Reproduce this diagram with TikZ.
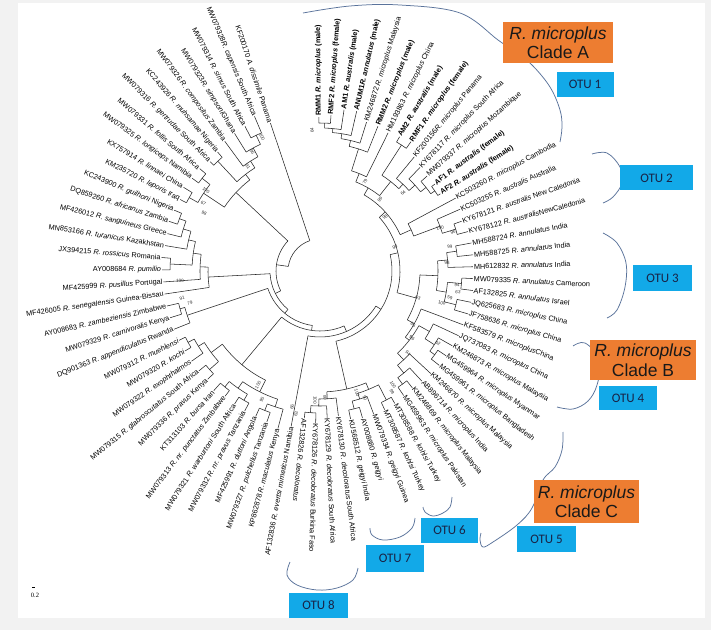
\documentclass[tikz,border=0pt]{standalone}
\usepackage{fontspec}
\setmainfont{Liberation Sans}
\newfontfamily\otufont{Carlito}
\newfontfamily\scalefont{Liberation Serif}
\definecolor{bgc}{RGB}{242,242,242}
\definecolor{cladeor}{RGB}{237,125,49}
\definecolor{otublue}{RGB}{18,169,232}
\definecolor{otutext}{RGB}{25,35,70}
\definecolor{bracketc}{RGB}{90,115,155}
\tikzset{
  br/.style={line width=0.55pt, draw=black!85},
  lab/.style={font=\fontsize{7.3}{8}\selectfont, inner sep=0.8pt},
  bs/.style={font=\fontsize{4.6}{5}\selectfont, inner sep=0pt, text=black!80},
  brk/.style={draw=bracketc, line width=0.75pt},
  cladebox/.style={fill=cladeor, text=black!90, font=\fontsize{17.5}{19.5}\selectfont, align=center, inner sep=0pt},
  otubox/.style={fill=otublue, text=otutext, font=\otufont\fontsize{13}{14}\selectfont, inner sep=0pt},
}
\newcommand{\Ang}[1]{(90.4-(#1-1)*4.44)}
\newcommand{\TRad}[3]{\draw[br] ({\Ang{#1}}:#2) -- ({\Ang{#1}}:#3);}
\newcommand{\TArc}[3]{\draw[br] ({\Ang{#2}}:#1) arc[start angle={\Ang{#2}}, end angle={\Ang{#3}}, radius=#1];}
\newcommand{\LR}[3]{\node[lab, anchor=west, rotate={\Ang{#1}}] (l#1) at ({\Ang{#1}}:#2) {#3};}
\newcommand{\LL}[3]{\node[lab, anchor=east, rotate={\Ang{#1}+180}] (l#1) at ({\Ang{#1}}:#2) {#3};}
\newcommand{\BR}[4]{\node[bs, rotate=#2] (#1) at (#2:#3) {#4};}
\newcommand{\BL}[4]{\node[bs, rotate=#2+180] (#1) at (#2:#3) {#4};}
\newcommand{\Ri}[1]{\textit{#1}}
\begin{document}
\begin{tikzpicture}[x=1pt,y=1pt]
\useasboundingbox (0,0) rectangle (711,630);
\fill[bgc] (0,0) rectangle (711,630);
\fill[white] (18,12) rectangle (705,627);

% ---------- brackets (behind boxes) ----------
\draw[brk] plot[smooth, tension=0.6] coordinates {(303,617) (350,624) (400,625) (460,617) (498,590) (515,578) (532,565) (550,543) (560,520) (562,503) (560,488)};
\draw[brk] plot[smooth, tension=0.6] coordinates {(592,476) (607,477) (620,463) (622,447) (613,433) (603,427)};
\draw[brk] plot[smooth, tension=0.6] coordinates {(603,397) (617,387) (626,367) (625,343) (617,320) (607,312)};
\draw[brk] plot[smooth, tension=0.6] coordinates {(573,284) (585,287) (600,270) (597,245) (588,229) (573,221) (557,223)};
\draw[brk] plot[smooth, tension=0.6] coordinates {(563,198) (562,180) (555,163) (543,150) (532,122) (517,105) (493,88) (483,83) (480,90) (481,97)};
\draw[brk] plot[smooth, tension=0.6] coordinates {(452,133) (450,123) (443,117) (433,114) (425,118) (423,123)};
\draw[brk] plot[smooth, tension=0.6] coordinates {(415,112) (412,102) (400,93) (383,90) (372,95) (370,102)};
\draw[brk] plot[smooth, tension=0.6] coordinates {(358,62) (353,50) (337,42) (317,40) (297,45) (287,55) (290,68)};

% ---------- boxes ----------
\node[cladebox, minimum width=110pt, minimum height=41pt] (cA) at (558,587.5) {\textit{R. microplus}\\Clade A};
\node[cladebox, minimum width=106pt, minimum height=40pt] (cB) at (643,270) {\textit{R. microplus}\\Clade B};
\node[cladebox, minimum width=105pt, minimum height=43pt] (cC) at (586.5,128.5) {\textit{R. microplus}\\Clade C};
\node[otubox, minimum width=57pt, minimum height=25pt] (o1) at (585,545.5) {OTU 1};
\node[otubox, minimum width=73pt, minimum height=25pt] (o2) at (656.5,452) {OTU 2};
\node[otubox, minimum width=59pt, minimum height=26pt] (o3) at (662.5,352) {OTU 3};
\node[otubox, minimum width=58pt, minimum height=24pt] (o4) at (628,232) {OTU 4};
\node[otubox, minimum width=59pt, minimum height=26pt] (o5) at (546.5,91) {OTU 5};
\node[otubox, minimum width=57pt, minimum height=25pt] (o6) at (449.5,99.5) {OTU 6};
\node[otubox, minimum width=58pt, minimum height=27pt] (o7) at (395,71.5) {OTU 7};
\node[otubox, minimum width=59pt, minimum height=25pt] (o8) at (318.5,24.5) {OTU 8};

% ---------- scale ----------
\draw[line width=0.5pt] (32,43) -- (35,43);
\node[font=\scalefont\fontsize{6.5}{7}\selectfont, inner sep=0pt] (scl) at (35,35) {0.2};

\begin{scope}[shift={(320,359)}]
% ---------- tree: clade A ----------
\TArc{148}{1}{2} \TRad{1}{148}{154} \TRad{2}{148}{156}
\TArc{143}{1.5}{3} \TRad{1.5}{143}{148} \TRad{3}{143}{163}
\TArc{139}{2.25}{4} \TRad{2.25}{139}{143} \TRad{4}{139}{164}
\TArc{134}{3.125}{5} \TRad{3.125}{134}{139} \TRad{5}{134}{156}
\TArc{128}{4.06}{6} \TRad{4.06}{128}{134} \TRad{6}{128}{156}
\TArc{105}{5.03}{7} \TRad{5.03}{105}{128} \TRad{7}{105}{154}
\TArc{150}{8}{9} \TRad{8}{150}{156} \TRad{9}{150}{158}
\TArc{140}{13}{14} \TRad{13}{140}{144} \TRad{14}{140}{143}
\TArc{135}{12}{13.5} \TRad{12}{135}{143} \TRad{13.5}{135}{140}
\TArc{128}{11}{12.75} \TRad{11}{128}{144} \TRad{12.75}{128}{135}
\TArc{120}{10}{11.875} \TRad{10}{120}{148} \TRad{11.875}{120}{128}
\TArc{114}{8.5}{10.94} \TRad{8.5}{114}{150} \TRad{10.94}{114}{120}
\TArc{96}{6.02}{9.72} \TRad{6.02}{96}{105} \TRad{9.72}{96}{114}
% australis
\TArc{142}{17}{18} \TRad{17}{142}{150} \TRad{18}{142}{153}
\TArc{128}{16}{17.5} \TRad{16}{128}{153} \TRad{17.5}{128}{142}
\TArc{100}{15}{16.75} \TRad{15}{100}{154} \TRad{16.75}{100}{128}
\TArc{88}{7.87}{15.875} \TRad{7.87}{88}{96} \TRad{15.875}{88}{100}
% annulatus + microplus B/C
\TArc{138}{19}{20} \TRad{19}{138}{154} \TRad{20}{138}{154}
\TArc{128}{19.5}{21} \TRad{19.5}{128}{138} \TRad{21}{128}{153}
\TArc{142}{22}{23} \TRad{22}{142}{153} \TRad{23}{142}{154}
\TArc{140}{24}{25} \TRad{24}{140}{154} \TRad{25}{140}{154}
\TArc{128}{22.5}{24.5} \TRad{22.5}{128}{142} \TRad{24.5}{128}{140}
\TArc{118}{20.25}{23.5} \TRad{20.25}{118}{128} \TRad{23.5}{118}{128}
\TArc{142}{29}{30} \TRad{29}{142}{152} \TRad{30}{142}{152}
\TArc{136}{28}{29.5} \TRad{28}{136}{152} \TRad{29.5}{136}{142}
\TArc{125}{27}{28.75} \TRad{27}{125}{153} \TRad{28.75}{125}{136}
\TArc{140}{33}{34} \TRad{33}{140}{149} \TRad{34}{140}{150}
\TArc{132}{32}{33.5} \TRad{32}{132}{150} \TRad{33.5}{132}{140}
\TArc{122}{31}{32.75} \TRad{31}{122}{151} \TRad{32.75}{122}{132}
\TArc{113}{27.875}{31.875} \TRad{27.875}{113}{125} \TRad{31.875}{113}{122}
\TArc{108}{26}{29.875} \TRad{26}{108}{153} \TRad{29.875}{108}{113}
\TArc{100}{21.875}{27.94} \TRad{21.875}{100}{118} \TRad{27.94}{100}{108}
\TArc{80}{11.87}{24.9} \TRad{11.87}{80}{88} \TRad{24.9}{80}{100}
% kohlsi, geigyi, decoloratus
\TArc{145}{35}{36} \TRad{35}{145}{152} \TRad{36}{145}{153}
\TArc{142}{38}{39} \TRad{38}{142}{153} \TRad{39}{142}{151}
\TArc{134}{37}{38.5} \TRad{37}{134}{153} \TRad{38.5}{134}{142}
\TArc{128}{35.5}{37.75} \TRad{35.5}{128}{145} \TRad{37.75}{128}{134}
\TArc{142}{42}{43} \TRad{42}{142}{152} \TRad{43}{142}{148}
\TArc{135}{41}{42.5} \TRad{41}{135}{147} \TRad{42.5}{135}{142}
\TArc{128}{40}{41.75} \TRad{40}{128}{146} \TRad{41.75}{128}{135}
\TArc{121}{36.6}{40.9} \TRad{36.6}{121}{128} \TRad{40.9}{121}{128}
\TArc{72}{18.4}{38.75} \TRad{18.4}{72}{80} \TRad{38.75}{72}{121}
\TArc{66}{28.6}{44} \TRad{28.6}{66}{72} \TRad{44}{66}{158}
% 45-56
\TArc{150}{55}{56} \TRad{55}{150}{157} \TRad{56}{150}{157}
\TArc{143}{54}{55.5} \TRad{54}{143}{157} \TRad{55.5}{143}{150}
\TArc{148}{52}{53} \TRad{52}{148}{156} \TRad{53}{148}{157}
\TArc{136}{52.5}{54.75} \TRad{52.5}{136}{148} \TRad{54.75}{136}{143}
\TArc{150}{50}{51} \TRad{50}{150}{157} \TRad{51}{150}{160}
\TArc{150}{48}{49} \TRad{48}{150}{159} \TRad{49}{150}{158}
\TArc{143}{48.5}{50.5} \TRad{48.5}{143}{150} \TRad{50.5}{143}{150}
\TArc{150}{46}{47} \TRad{46}{150}{160} \TRad{47}{150}{159}
\TArc{143}{45}{46.5} \TRad{45}{143}{163} \TRad{46.5}{143}{150}
\TArc{135}{45.75}{49.5} \TRad{45.75}{135}{143} \TRad{49.5}{135}{143}
\TArc{122}{47.6}{53.6} \TRad{47.6}{122}{135} \TRad{53.6}{122}{136}
\TArc{60}{36.3}{50.6} \TRad{36.3}{60}{66} \TRad{50.6}{60}{122}
% 57-59
\TArc{145}{58}{59} \TRad{58}{145}{157} \TRad{59}{145}{157}
\TArc{140}{57}{58.5} \TRad{57}{140}{157} \TRad{58.5}{140}{145}
\TArc{55}{43.45}{57.75} \TRad{43.45}{55}{60} \TRad{57.75}{55}{140}
% 60-67
\TArc{150}{66}{67} \TRad{66}{150}{159} \TRad{67}{150}{158}
\TArc{143}{65}{66.5} \TRad{65}{143}{157} \TRad{66.5}{143}{150}
\TArc{135}{64}{65.75} \TRad{64}{135}{157} \TRad{65.75}{135}{143}
\TArc{150}{62}{63} \TRad{62}{150}{158} \TRad{63}{150}{159}
\TArc{128}{62.5}{64.9} \TRad{62.5}{128}{150} \TRad{64.9}{128}{135}
\TArc{120}{61}{63.7} \TRad{61}{120}{157} \TRad{63.7}{120}{128}
\TArc{112}{60}{62.35} \TRad{60}{112}{157} \TRad{62.35}{112}{120}
\TArc{50}{50.6}{61.2} \TRad{50.6}{50}{55} \TRad{61.2}{50}{112}
% 68-77
\TArc{150}{76}{77} \TRad{76}{150}{163} \TRad{77}{150}{168}
\TArc{140}{75}{76.5} \TRad{75}{140}{162} \TRad{76.5}{140}{150}
\TArc{130}{74}{75.75} \TRad{74}{130}{161} \TRad{75.75}{130}{140}
\TArc{150}{72}{73} \TRad{72}{150}{155} \TRad{73}{150}{157}
\TArc{122}{72.5}{74.9} \TRad{72.5}{122}{150} \TRad{74.9}{122}{130}
\TArc{150}{70}{71} \TRad{70}{150}{158} \TRad{71}{150}{158}
\TArc{150}{68}{69} \TRad{68}{150}{157} \TRad{69}{150}{160}
\TArc{140}{68.5}{70.5} \TRad{68.5}{140}{150} \TRad{70.5}{140}{150}
\TArc{115}{69.5}{73.7} \TRad{69.5}{115}{140} \TRad{73.7}{115}{122}
\TArc{44}{55.9}{71.6} \TRad{55.9}{44}{50} \TRad{71.6}{44}{115}
\TArc{32}{63.75}{78} \TRad{63.75}{32}{44} \TRad{78}{32}{156}

% ---------- leaf labels ----------
\LR{1}{154}{\textbf{RMM1 \Ri{R. microplus} (male)}}
\LR{2}{156}{\textbf{RMF2 \Ri{R. microplus} (female)}}
\LR{3}{163}{\textbf{AM1 \Ri{R. australis} (male)}}
\LR{4}{164}{\textbf{ANUM1\Ri{R. annulatus} (male)}}
\LR{5}{156}{KM246872 \Ri{R. microplus} Malaysia}
\LR{6}{156}{\textbf{RMM2 \Ri{R. microplus} (male)}}
\LR{7}{154}{HM193863 \Ri{R. microplus} China}
\LR{8}{156}{\textbf{AM2 \Ri{R. australis} (male)}}
\LR{9}{158}{\textbf{RMF1 \Ri{R. microplus} (female)}}
\LR{10}{148}{KF200156\Ri{R. microplus} Panama}
\LR{11}{144}{KY678117 \Ri{R. microplus} South Africa}
\LR{12}{143}{MW079337 \Ri{R. microplus} Mozambique}
\LR{13}{144}{\textbf{AF1 \Ri{R. australis} (female)}}
\LR{14}{143}{\textbf{AF2 \Ri{R. australis} (female)}}
\LR{15}{154}{KC503260 \Ri{R. microplus} Cambodia}
\LR{16}{153}{KC503255 \Ri{R. australis} Australia}
\LR{17}{150}{KY678121 \Ri{R. australis} New Caledonia}
\LR{18}{153}{KY678122 \Ri{R. australis}NewCaledonia}
\LR{19}{154}{MH588724 \Ri{R. annulatus} India}
\LR{20}{154}{MH588725 \Ri{R. annulatus} India}
\LR{21}{153}{MH612832 \Ri{R. annulatus} India}
\LR{22}{153}{MW079335 \Ri{R. annulatus} Cameroon}
\LR{23}{154}{AF132825 \Ri{R. annulatus} Israel}
\LR{24}{154}{JQ625683 \Ri{R. microplus} China}
\LR{25}{154}{JF758636 \Ri{R. microplus} China}
\LR{26}{153}{KF583579 \Ri{R. microplus}China}
\LR{27}{153}{JQ737083 \Ri{R. microplus} China}
\LR{28}{152}{KM246873 \Ri{R. microplus} Malaysia}
\LR{29}{152}{MG459964 \Ri{R. microplus} Myanmar}
\LR{30}{152}{MG459961 \Ri{R. microplus} Bangladesh}
\LR{31}{151}{KM246870 \Ri{R. microplus} Malaysia}
\LR{32}{150}{AB896714 \Ri{R. microplus} India}
\LR{33}{149}{KM246869 \Ri{R. microplus} Malaysia}
\LR{34}{150}{MG459963 \Ri{R. microplus} Pakistan}
\LR{35}{152}{MT308588 \Ri{R. kohlsi} Turkey}
\LR{36}{153}{MT308587 \Ri{R. kohlsi} Turkey}
\LR{37}{153}{MW079334 \Ri{R. geigyi} Guinea}
\LR{38}{153}{AY008680 \Ri{R. geigyi}}
\LR{39}{151}{KU568512 \Ri{R. geigyi} India}
\LR{40}{146}{KY678130 \Ri{R. decoloratus} South Africa}
\LR{41}{147}{KY678129 \Ri{R. decoloratus} South Africa}
\LR{42}{152}{KY678126 \Ri{R. decoloratus} Burkina Faso}
\LR{43}{148}{AF132826 \Ri{R. decoloratus}}
\LL{44}{158}{AF132836 \Ri{R. evertsi mimeticus} Namibia}
\LL{45}{163}{KP862878 \Ri{R. maculatus} Kenya}
\LL{46}{160}{MW079327 \Ri{R. pulchellus} Tanzania}
\LL{47}{159}{MF425991 \Ri{R. duttoni} Angola}
\LL{48}{159}{MW079332 \Ri{R. nr. pravus} Tanzania}
\LL{49}{158}{MW079321 \Ri{R. warburtoni} South Africa}
\LL{50}{157}{MW079313 \Ri{R. nr. punctatus} Zimbabwe}
\LL{51}{160}{KT313103 \Ri{R. bursa} Iran}
\LL{52}{156}{MW079336 \Ri{R. pravus} Kenya}
\LL{53}{157}{MW079315 \Ri{R. glabroscutatus} South Africa}
\LL{54}{157}{MW079322 \Ri{R. exophthalmos}}
\LL{55}{157}{MW079320 \Ri{R. kochi}}
\LL{56}{157}{MW079312 \Ri{R. muehlensi}}
\LL{57}{157}{DQ901363 \Ri{R. appendiculatus} Rwanda}
\LL{58}{157}{MW079329 \Ri{R. carnivoralis} Kenya}
\LL{59}{157}{AY008683 \Ri{R. zambeziensis} Zimbabwe}
\LL{60}{157}{MF426005 \Ri{R. senegalensis} Guinea-Bissau}
\LL{61}{157}{MF425999 \Ri{R. pusillus} Portugal}
\LL{62}{158}{AY008684 \Ri{R. pumilio}}
\LL{63}{159}{JX394215 \Ri{R. rossicus} Romania}
\LL{64}{157}{MN853166 \Ri{R. turanicus} Kazakhstan}
\LL{65}{157}{MF426012 \Ri{R. sanguineus} Greece}
\LL{66}{159}{DQ859260 \Ri{R. africanus} Zambia}
\LL{67}{158}{KC243900 \Ri{R. guilhoni} Nigeria}
\LL{68}{157}{KM235720 \Ri{R. leporis} Iraq}
\LL{69}{160}{KX757914 \Ri{R. linnaei} China}
\LL{70}{158}{MW079325 \Ri{R. longiceps} Namibia}
\LL{71}{158}{MW079331 \Ri{R. follis} South Africa}
\LL{72}{155}{MW079316 \Ri{R. gertrudae} South Africa}
\LL{73}{157}{KC243926 \Ri{R. muhsamae} Nigeria}
\LL{74}{161}{MW079326 \Ri{R. compositus} Zambia}
\LL{75}{162}{MW079323\Ri{R. simpsoni}Ghana}
\LL{76}{163}{MW079314 \Ri{R. simus} South Africa}
\LL{77}{168}{MW079328\Ri{R. capensis} South Africa}
\LL{78}{156}{KF200170 \Ri{A. dissimile} Panama}

% ---------- bootstrap values ----------
\BR{b1}{93.2}{141}{64}
\BR{b2}{63.2}{100}{79}
\BR{b3}{49.8}{93}{99}
\BR{b4}{43.2}{114}{64}
\BR{b5}{39.7}{84.5}{98}
\BR{b6}{19.7}{127.5}{100}
\BR{b7}{16.3}{138.6}{96}
\BR{b8}{17.7}{78.7}{99}
\BR{b9}{10.5}{132}{99}
\BR{b10}{3.6}{127.3}{98}
\BR{b11}{-5.8}{137.7}{94}
\BR{b12}{-8.7}{139.6}{63}
\BR{b13}{-11.7}{132.8}{59}
\BR{b14}{-14.7}{126}{100}
\BR{b15}{-15.4}{101.7}{63}
\BR{b16}{-30.1}{107.5}{65}
\BR{b17}{-36.1}{113.8}{96}
\BR{b18}{-43}{120.3}{94}
\BR{b19}{-31.4}{138.2}{62}
\BR{b20}{-57.4}{135.4}{100}
\BR{b21}{-59.2}{140.8}{99}
\BR{b22}{-92.2}{129}{100}
\BR{b23}{-87.7}{127}{80}
\BR{b24}{-73.1}{127.5}{100}
\BR{b25}{-70.5}{134.7}{90}
\BL{b26}{113.4}{146}{100}
\BL{b27}{119.7}{137}{96}
\BL{b28}{124.7}{126.5}{91}
\BL{b29}{149.8}{135}{67}
\BL{b30}{153.4}{129.7}{98}
\BL{b31}{144.6}{139.8}{100}
\BL{b32}{-175.9}{140.4}{100}
\BL{b33}{-168.9}{140.6}{91}
\BL{b34}{-166.2}{133.9}{79}
\BL{b35}{-118.5}{129.8}{100}
\BL{b36}{-114.2}{141.4}{95}
\BL{b37}{-101.6}{138.9}{66}
\BL{b38}{-99.5}{145}{63}
\end{scope}
\end{tikzpicture}
\end{document}
